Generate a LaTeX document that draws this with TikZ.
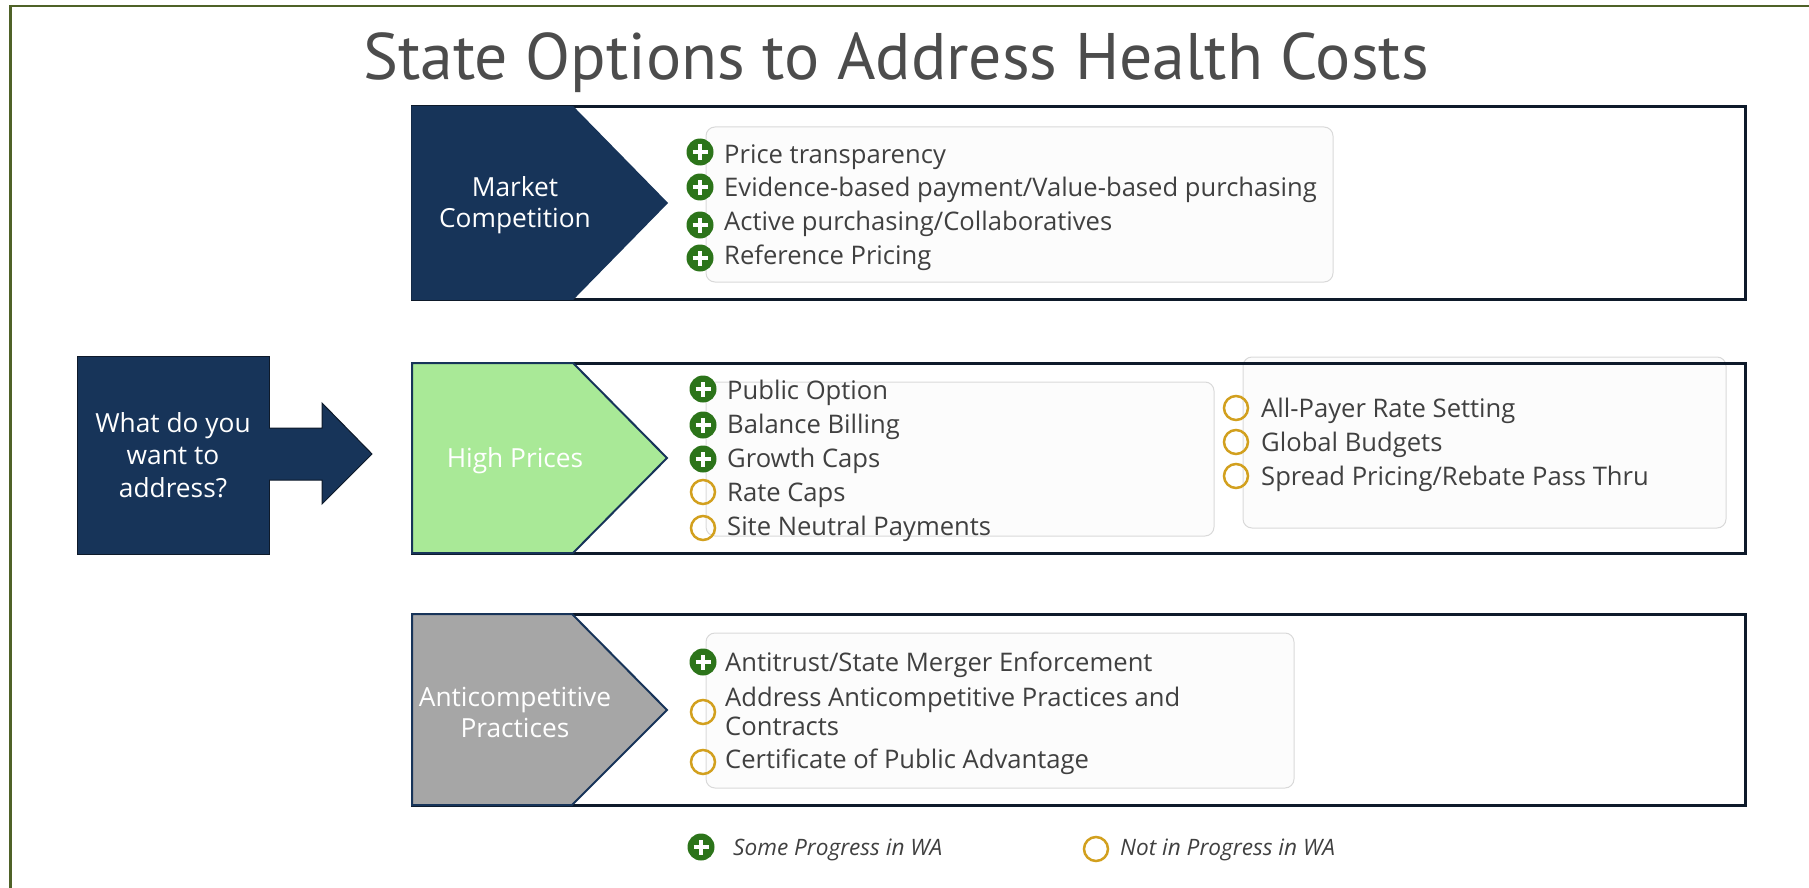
\documentclass[tikz,border=0pt]{standalone}
\usepackage{fontspec}
\setmainfont{Open Sans}
\newfontfamily\titlefont{PT Sans}
\definecolor{navy}{RGB}{23,52,89}
\definecolor{rimnavy}{RGB}{14,26,42}
\definecolor{leafgreen}{RGB}{169,233,151}
\definecolor{slategray}{RGB}{166,166,166}
\definecolor{plusgreen}{RGB}{44,116,26}
\definecolor{ringgold}{RGB}{210,160,30}
\definecolor{inkgray}{RGB}{64,64,64}
\definecolor{olive}{RGB}{79,98,40}
\tikzset{
  rowframe/.style={draw=rimnavy, line width=3pt},
  listbox/.style={draw=black!15, fill=black!1, line width=1pt, rounded corners=9pt},
  chevtext/.style={text=white, align=center, font=\fontsize{26.3}{31}\selectfont},
  optitem/.style={anchor=base west, inner sep=0pt, text=inkgray, font=\fontsize{25.6}{29}\selectfont},
  plusicon/.style={circle, fill=plusgreen, minimum size=27pt, inner sep=0pt,
    path picture={\draw[white, line width=3.5pt]
      ([xshift=-7.5pt]path picture bounding box.center) -- ([xshift=7.5pt]path picture bounding box.center)
      ([yshift=-7.5pt]path picture bounding box.center) -- ([yshift=7.5pt]path picture bounding box.center);}},
  ringicon/.style={circle, draw=ringgold, line width=2.5pt, minimum size=24pt, inner sep=0pt},
}
\begin{document}
\begin{tikzpicture}[x=1pt, y=-1pt]
        \useasboundingbox (0,0) rectangle (1809,888);
        \draw[olive, line width=2.5pt] (10.5,888) |- (1809,6);
        \node[anchor=base, text=black!70, font=\titlefont\fontsize{65.8}{66}\selectfont] (title) at (896,80) {State Options to Address Health Costs};

        % question and its arrow
        \node[fill=navy, draw=rimnavy, line width=1pt, minimum width=192pt, minimum height=198pt, chevtext, font=\fontsize{26.3}{32.5}\selectfont] (ask) at (173,455) {What do you\\want to\\address?};
        \filldraw[fill=navy, draw=rimnavy, line width=1pt] (269,428) -- (322,428) -- (322,403) -- (372,454) -- (322,504) -- (322,480) -- (269,480);

        % light boxes behind the lists
        \draw[listbox] (706,127) rectangle (1333,282);
        \draw[listbox] (706,382) rectangle (1214,536);
        \draw[listbox] (1243,357) rectangle (1726,528);
        \draw[listbox] (706,633) rectangle (1294,788);

        \draw[rowframe] (412,107) rectangle (1745,299);
        \draw[rowframe] (412,363) rectangle (1745,553);
        \draw[rowframe] (412,614) rectangle (1745,805);

        \filldraw[fill=navy, draw=navy, line width=1.5pt] (412,107) -- (573,107) -- (667,203) -- (573,299) -- (412,299) -- cycle;
        \filldraw[fill=leafgreen, draw=navy, line width=2pt] (412,363) -- (573,363) -- (667,458) -- (573,553) -- (412,553) -- cycle;
        \filldraw[fill=slategray, draw=navy, line width=2pt] (412,614) -- (572,614) -- (667,710) -- (572,805) -- (412,805) -- cycle;

        \node[chevtext] (market) at (515,205) {Market\\Competition};
        \node[chevtext] (prices) at (515,461) {High Prices};
        \node[chevtext] (anti) at (515,712) {Anticompetitive\\Practices};

        % market competition
        \node[plusicon] (mc-1) at (700,152) {};
        \node[optitem] (mc-1t) at (724,163) {Price transparency};
        \node[plusicon] (mc-2) at (700,187) {};
        \node[optitem] (mc-2t) at (724,196) {Evidence-based payment/Value-based purchasing};
        \node[plusicon] (mc-3) at (700,225) {};
        \node[optitem] (mc-3t) at (724,230) {Active purchasing/Collaboratives};
        \node[plusicon] (mc-4) at (700,258) {};
        \node[optitem] (mc-4t) at (724,264) {Reference Pricing};

        % high prices
        \node[plusicon] (hp-1) at (703,389) {};
        \node[optitem] (hp-1t) at (727,399) {Public Option};
        \node[plusicon] (hp-2) at (703,425) {};
        \node[optitem] (hp-2t) at (727,433) {Balance Billing};
        \node[plusicon] (hp-3) at (703,459) {};
        \node[optitem] (hp-3t) at (727,467) {Growth Caps};
        \node[ringicon] (hp-4) at (703,492) {};
        \node[optitem] (hp-4t) at (727,501) {Rate Caps};
        \node[ringicon] (hp-5) at (703,528) {};
        \node[optitem] (hp-5t) at (727,535) {Site Neutral Payments};
        \node[ringicon] (hp-6) at (1236,408) {};
        \node[optitem] (hp-6t) at (1261,417) {All-Payer Rate Setting};
        \node[ringicon] (hp-7) at (1236,442) {};
        \node[optitem] (hp-7t) at (1261,451) {Global Budgets};
        \node[ringicon] (hp-8) at (1236,476) {};
        \node[optitem] (hp-8t) at (1261,485) {Spread Pricing/Rebate Pass Thru};

        % anticompetitive practices
        \node[plusicon] (ap-1) at (703,662) {};
        \node[optitem] (ap-1t) at (725,671) {Antitrust/State Merger Enforcement};
        \node[ringicon] (ap-2) at (703,712) {};
        \node[optitem, align=left, anchor=north west] (ap-2t) at (725,687) {Address Anticompetitive Practices and\\Contracts};
        \node[ringicon] (ap-3) at (703,762) {};
        \node[optitem] (ap-3t) at (725,768) {Certificate of Public Advantage};

        % legend
        \node[plusicon] (key-1) at (701,847) {};
        \node[optitem, font=\fontsize{22.6}{26}\selectfont\itshape] (key-1t) at (733,855) {Some Progress in WA};
        \node[ringicon] (key-2) at (1096,849) {};
        \node[optitem, font=\fontsize{22.6}{26}\selectfont\itshape] (key-2t) at (1120,855) {Not in Progress in WA};
\end{tikzpicture}
\end{document}
